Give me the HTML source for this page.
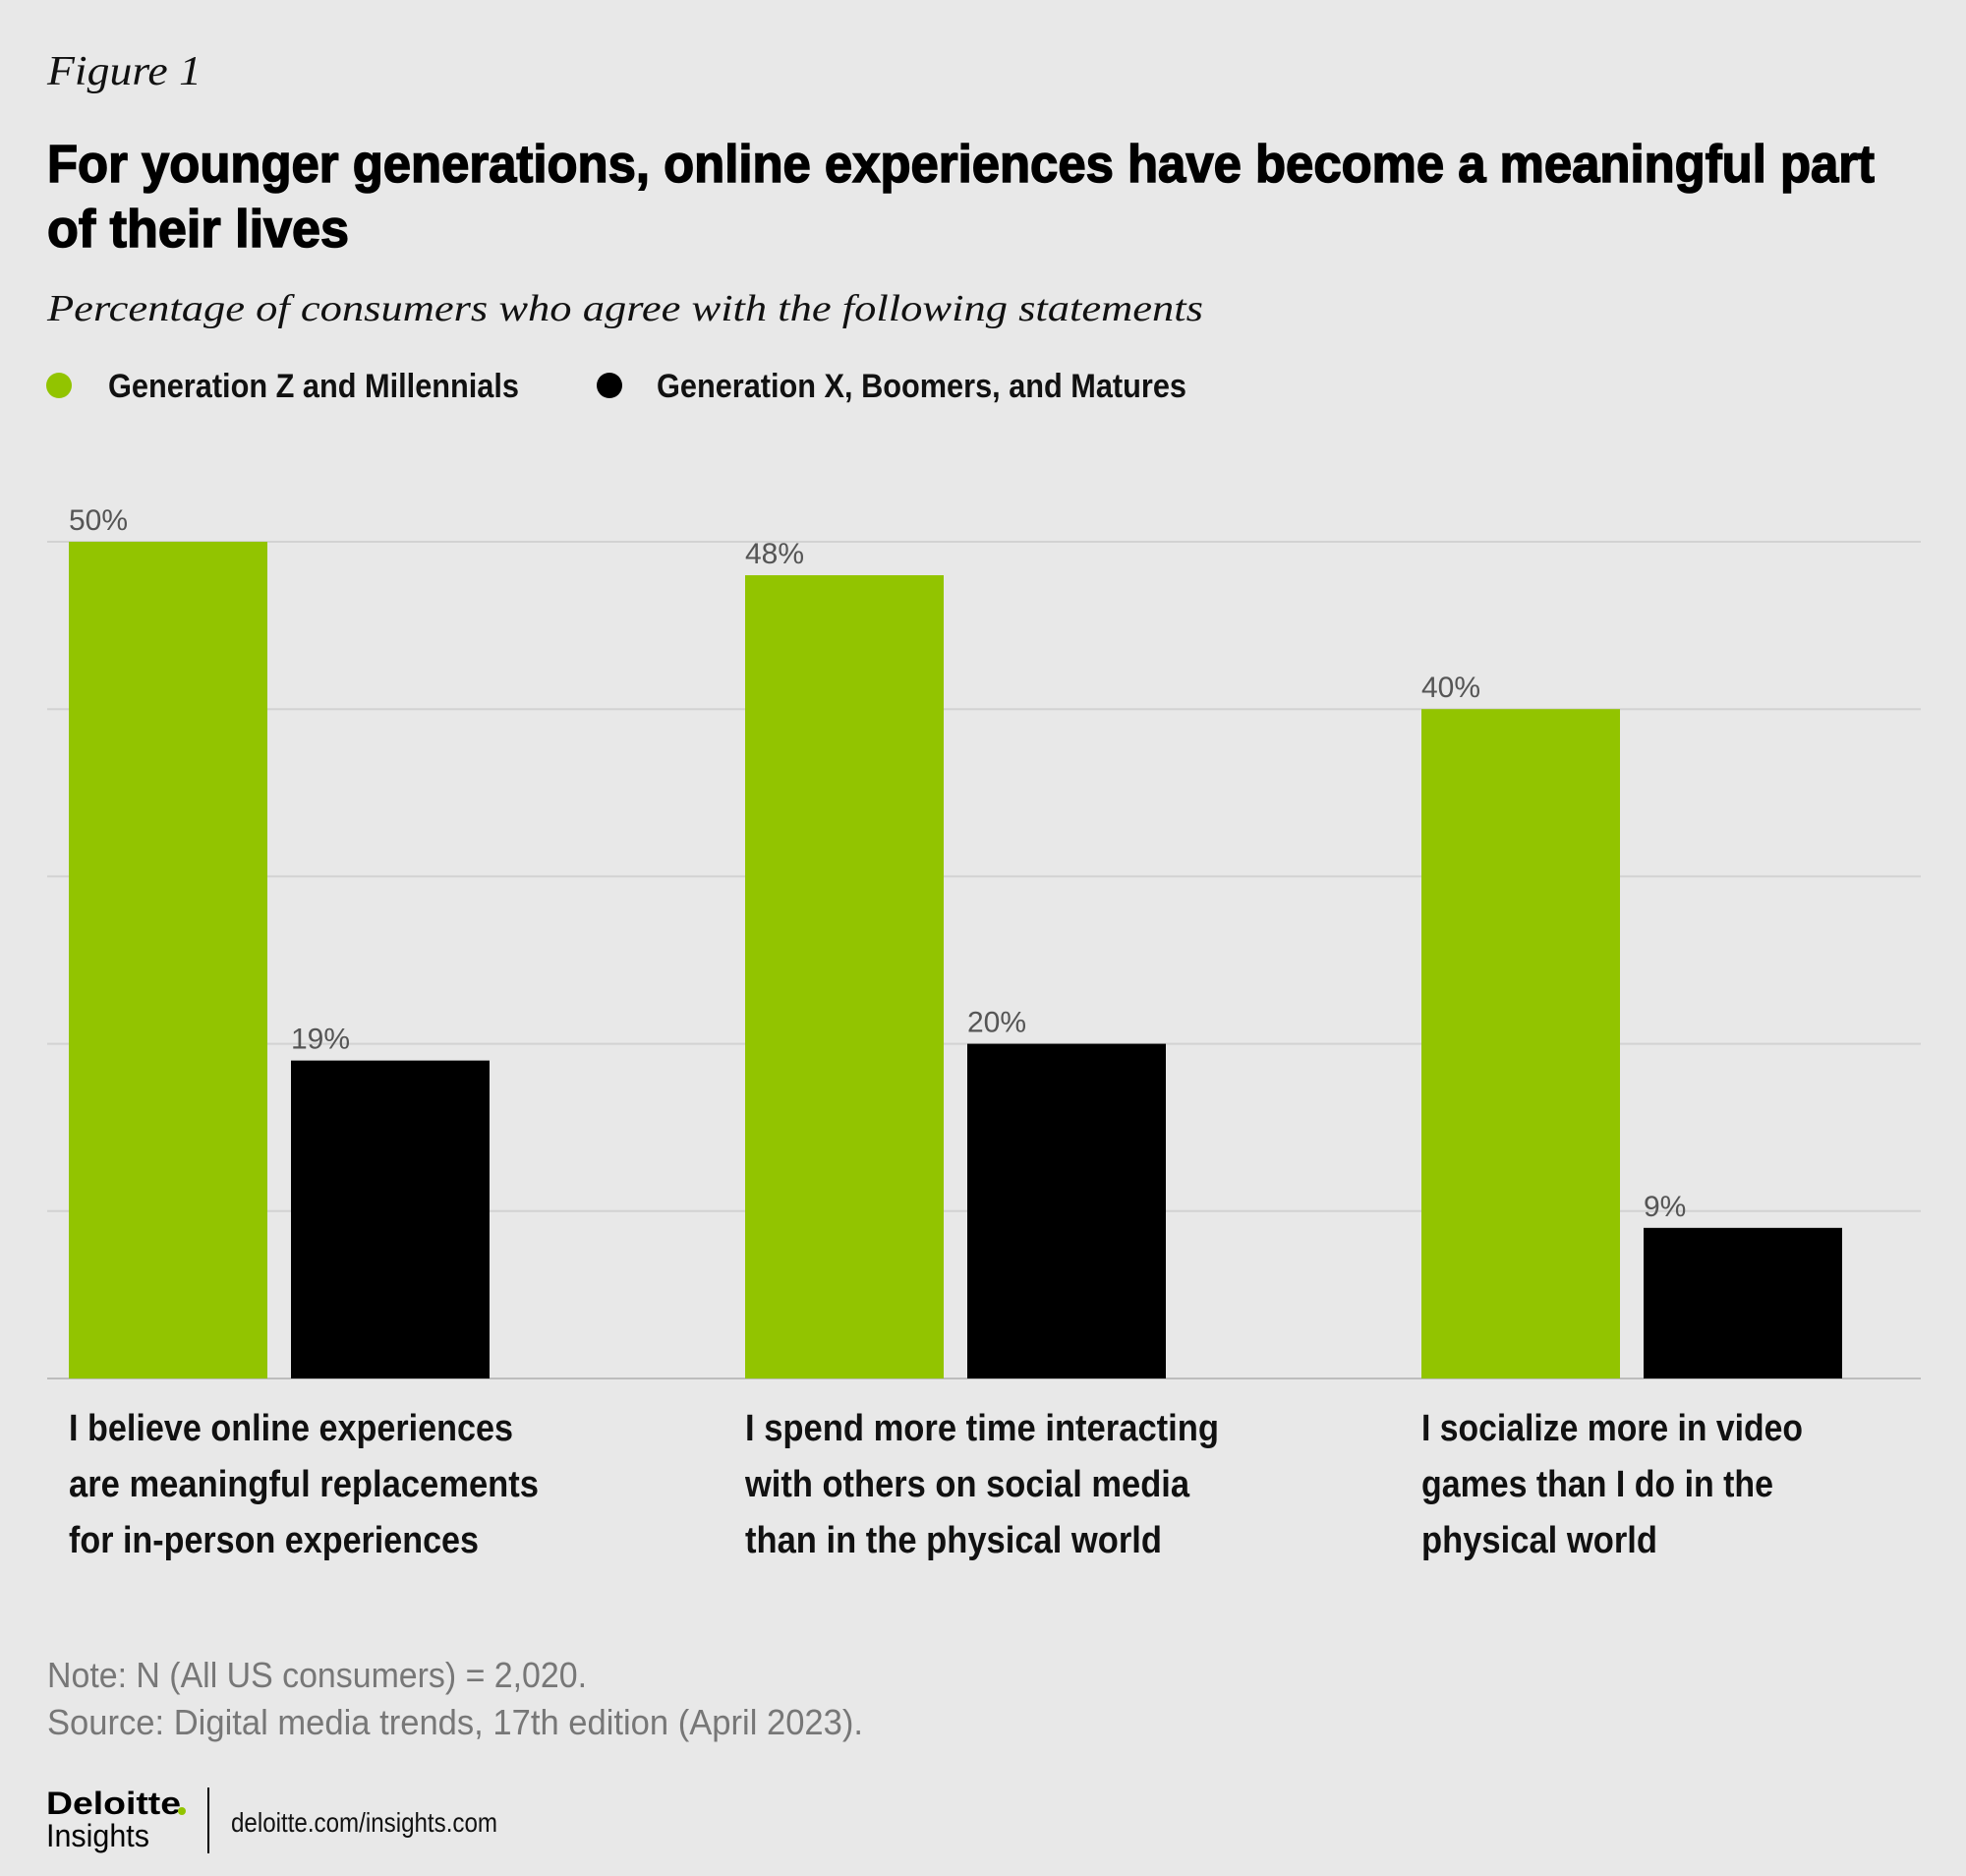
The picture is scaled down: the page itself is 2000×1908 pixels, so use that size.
<!DOCTYPE html>
<html><head><meta charset="utf-8"><style>
html,body{margin:0;padding:0;background:#e8e8e8;}
svg{display:block;}
</style></head><body>
<svg id="chart" width="2000" height="1908" viewBox="0 0 2000 1908" xmlns="http://www.w3.org/2000/svg">
<rect width="2000" height="1908" fill="#e8e8e8"/>
<text x="48" y="86" font-family="Liberation Serif, serif" font-style="italic" font-size="42" fill="#111" textLength="157" lengthAdjust="spacingAndGlyphs">Figure 1</text>
<g font-family="Liberation Sans Narrow, Liberation Sans, sans-serif" font-weight="bold" font-size="54" fill="#000" stroke="#000" stroke-width="1.5">
<text x="48" y="185" textLength="1859" lengthAdjust="spacingAndGlyphs">For younger generations, online experiences have become a meaningful part</text>
<text x="48" y="251" textLength="307" lengthAdjust="spacingAndGlyphs">of their lives</text>
</g>
<text x="48" y="326" font-family="Liberation Serif, serif" font-style="italic" font-size="38" fill="#111" textLength="1176" lengthAdjust="spacingAndGlyphs">Percentage of consumers who agree with the following statements</text>
<g font-family="Liberation Sans Narrow, Liberation Sans, sans-serif" font-weight="bold" font-size="34" fill="#111">
<g>
<circle cx="60" cy="392" r="13" fill="#92c400"/>
<text x="110" y="404" textLength="418" lengthAdjust="spacingAndGlyphs">Generation Z and Millennials</text></g>
<g>
<circle cx="620" cy="392" r="13" fill="#000"/>
<text x="668" y="404" textLength="539" lengthAdjust="spacingAndGlyphs">Generation X, Boomers, and Matures</text></g>
</g>
<g id="grid"></g>
<g id="bars"></g>
<g id="cats" font-family="Liberation Sans Narrow, Liberation Sans, sans-serif" font-weight="bold" font-size="38" fill="#111"></g>
<g font-family="Liberation Sans Narrow, Liberation Sans, sans-serif" font-size="36" fill="#777">
<text x="48" y="1716" textLength="549" lengthAdjust="spacingAndGlyphs">Note: N (All US consumers) = 2,020.</text>
<text x="48" y="1764" textLength="830" lengthAdjust="spacingAndGlyphs">Source: Digital media trends, 17th edition (April 2023).</text>
</g>
<g font-family="Liberation Sans, sans-serif">
<text x="47" y="1845" font-weight="bold" font-size="32" fill="#000" textLength="137" lengthAdjust="spacingAndGlyphs">Deloitte</text>
<circle cx="185" cy="1842" r="4" fill="#92c400"/>
<text x="47" y="1878" font-size="32" fill="#000" textLength="105" lengthAdjust="spacingAndGlyphs">Insights</text>
<line x1="212" y1="1818" x2="212" y2="1885" stroke="#000" stroke-width="2"/>
<text x="235" y="1863" font-family="Liberation Sans Narrow, Liberation Sans, sans-serif" font-size="28" fill="#111" textLength="271" lengthAdjust="spacingAndGlyphs">deloitte.com/insights.com</text>
</g>
</svg>
<script>
const categories = ["I believe online experiences are meaningful replacements for in-person experiences","I spend more time interacting with others on social media than in the physical world","I socialize more in video games than I do in the physical world"];
const categoryLines = [["I believe online experiences","are meaningful replacements","for in-person experiences"],["I spend more time interacting","with others on social media","than in the physical world"],["I socialize more in video","games than I do in the","physical world"]];
const categoryLineWidths = [[452,478,417],[482,452,424],[388,358,240]];
const youngerValues = [50, 48, 40];
const olderValues = [19, 20, 9];
const gridTicks = [0, 10, 20, 30, 40, 50];

const NS = "http://www.w3.org/2000/svg";
const y0 = 1402, pxPer = 17.02;
function yScale(v){ return y0 - v * pxPer; }
function groupX(i){ return 70 + i * 688; }
const barW = 202, gap = 24;

const grid = document.getElementById('grid');
gridTicks.forEach(t => {
  const l = document.createElementNS(NS, 'line');
  
  
  l.setAttribute('x1', 48); l.setAttribute('x2', 1954);
  l.setAttribute('y1', yScale(t)); l.setAttribute('y2', yScale(t));
  l.setAttribute('stroke', t === 0 ? '#bdbdbd' : '#d2d2d2');
  l.setAttribute('stroke-width', 2);
  grid.appendChild(l);
});

const bars = document.getElementById('bars');
function addBar(x, v, color, name){
  const r = document.createElementNS(NS, 'rect');
  
  
  r.setAttribute('x', x); r.setAttribute('y', yScale(v));
  r.setAttribute('width', barW); r.setAttribute('height', y0 - yScale(v));
  r.setAttribute('fill', color);
  bars.appendChild(r);
  const t = document.createElementNS(NS, 'text');
  
  
  t.setAttribute('x', x); t.setAttribute('y', yScale(v) - 12);
  t.setAttribute('font-family', 'Liberation Sans Narrow, Liberation Sans, sans-serif');
  t.setAttribute('font-size', '30'); t.setAttribute('fill', '#555');
  t.textContent = v + '%';
  bars.appendChild(t);
}
categories.forEach((c, i) => {
  addBar(groupX(i), youngerValues[i], '#92c400', 'bar-younger');
  addBar(groupX(i) + barW + gap, olderValues[i], '#000', 'bar-older');
});

const cats = document.getElementById('cats');
categoryLines.forEach((lines, i) => {
  lines.forEach((s, j) => {
    const t = document.createElementNS(NS, 'text');
    
    
    t.setAttribute('x', groupX(i)); t.setAttribute('y', 1465 + j * 57);
    t.setAttribute('textLength', categoryLineWidths[i][j]);
    t.setAttribute('lengthAdjust', 'spacingAndGlyphs');
    t.textContent = s;
    cats.appendChild(t);
  });
});
</script>
</body></html>
